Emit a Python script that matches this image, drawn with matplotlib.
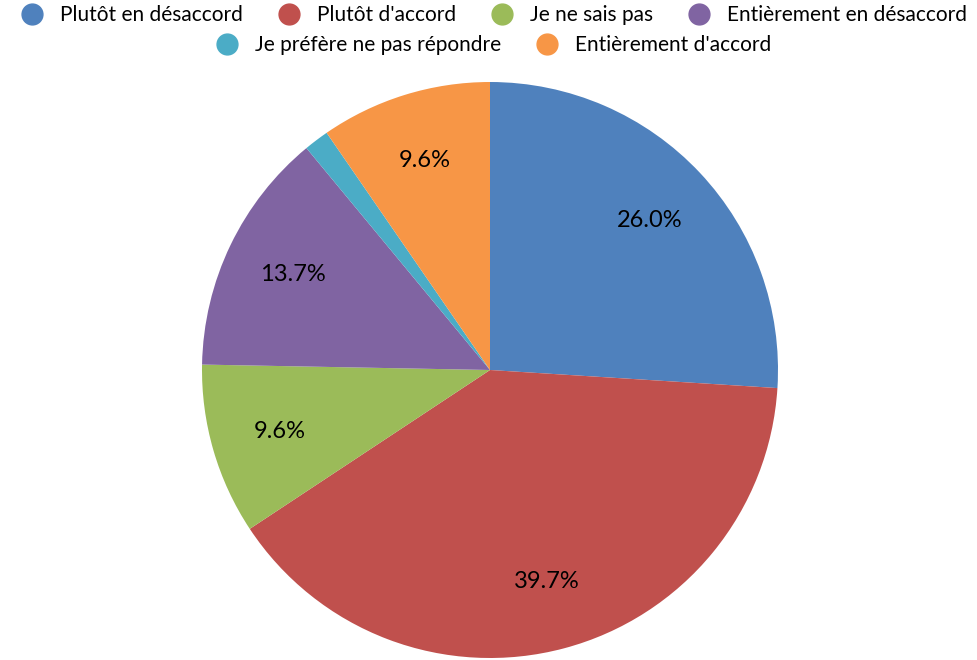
import matplotlib.pyplot as plt
from matplotlib.lines import Line2D

plt.rcParams['font.family'] = ['Lato', 'DejaVu Sans']

labels = ["Plutôt en désaccord", "Plutôt d'accord", "Je ne sais pas",
          "Entièrement en désaccord", "Je préfère ne pas répondre",
          "Entièrement d'accord"]
values = [26.0, 39.7, 9.6, 13.7, 1.4, 9.6]
colors = ["#4F81BD", "#C0504D", "#9BBB59", "#8064A2", "#4BACC6", "#F79646"]

fig = plt.figure(figsize=(9.78, 6.6), dpi=100)
ax = fig.add_axes([0, 0, 1, 1])

wedges, texts, autotexts = ax.pie(
    values, colors=colors, startangle=90, counterclock=False,
    center=(490, 290), radius=288, frame=True,
    autopct=lambda p: f"{p:.1f}%" if p > 5 else "", pctdistance=0.76,
    textprops=dict(fontsize=17, color="black"))
ax.set_xlim(0, 978)
ax.set_ylim(0, 660)
ax.axis('off')

def handle(c):
    return Line2D([], [], marker='o', linestyle='none', markersize=15,
                  markerfacecolor=c, markeredgecolor=c)

fig.legend([handle(c) for c in colors[:4]], labels[:4], ncol=4,
           loc='center', bbox_to_anchor=(0.5, 1 - 15 / 660),
           frameon=False, fontsize=15, handletextpad=0.35,
           columnspacing=1.2, borderaxespad=0, borderpad=0)
fig.legend([handle(c) for c in colors[4:]], labels[4:], ncol=2,
           loc='center', bbox_to_anchor=(0.5, 1 - 45 / 660),
           frameon=False, fontsize=15, handletextpad=0.35,
           columnspacing=1.2, borderaxespad=0, borderpad=0)

fig.savefig("out.png", dpi=100)
